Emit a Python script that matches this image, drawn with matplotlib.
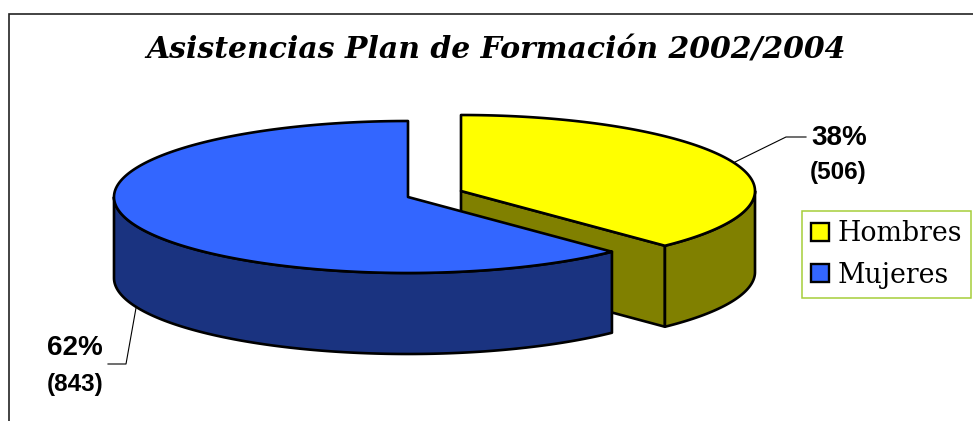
import numpy as np
import matplotlib
matplotlib.use('Agg')
import matplotlib.pyplot as plt
from matplotlib.patches import Polygon, Rectangle

labels = ['Hombres', 'Mujeres']
percent = [38, 62]
counts = [506, 843]
slice_share = [37.8, 62.2]
title = 'Asistencias Plan de Formación 2002/2004'

top_colors = ['#FFFF00', '#3366FF']
side_colors = ['#808000', '#1A3380']
centers = [(461, 191), (408, 197)]
rx, ry, depth = 294, 76, 81


def rim(center, a0, a1, drop=0):
    # angles in degrees, clockwise from twelve o'clock
    t = np.radians(np.linspace(a0, a1, 200))
    return np.column_stack([center[0] + rx * np.sin(t),
                            center[1] - ry * np.cos(t) + drop])


def draw_slice(ax, center, a0, a1, top, side, wall_from, wall_to, radial_wall=False):
    kw = dict(ec='black', lw=1.9, joinstyle='round', closed=True)
    if radial_wall:
        # the cut face that looks towards the viewer
        end = rim(center, a1, a1)[0]
        pts = [center, end, (end[0], end[1] + depth), (center[0], center[1] + depth)]
        ax.add_patch(Polygon(pts, fc=side, **kw))
    upper = rim(center, wall_from, wall_to)
    lower = rim(center, wall_from, wall_to, depth)
    ax.add_patch(Polygon(np.vstack([upper, lower[::-1]]), fc=side, **kw))
    ax.add_patch(Polygon(np.vstack([[center], rim(center, a0, a1)]), fc=top, **kw))


fig = plt.figure(figsize=(9.73, 4.21), dpi=100)
ax = fig.add_axes([0, 0, 1, 1])
ax.set_xlim(0, 973)
ax.set_ylim(421, 0)
ax.axis('off')

ax.add_patch(Rectangle((8.5, 14), 1000, 450, fc='white', ec='#222222', lw=1.2))

angle = 360 * slice_share[0] / sum(slice_share)
draw_slice(ax, centers[0], 0, angle, top_colors[0], side_colors[0], 90, angle, radial_wall=True)
draw_slice(ax, centers[1], angle, 360, top_colors[1], side_colors[1], angle, 270)

ax.text(496.5, 50, title, ha='center', va='center', family='DejaVu Serif',
        style='italic', weight='bold', fontsize=21.5)

# leader lines
ax.plot([735, 786, 806], [162, 137, 137], color='black', lw=0.8)
ax.plot([136, 126, 108], [308, 364, 364], color='black', lw=0.8)

sans = dict(family='Liberation Sans', weight='bold', va='center', ha='left')
ax.text(811, 138, f'{percent[0]}%', fontsize=20, **sans)
ax.text(810, 172, f'({counts[0]})', fontsize=17.5, **sans)
ax.text(47, 348, f'{percent[1]}%', fontsize=20, **sans)
ax.text(47, 384, f'({counts[1]})', fontsize=17.5, **sans)

handles = [Rectangle((0, 0), 1, 1, fc=c, ec='black', lw=1.7) for c in top_colors]
leg = ax.legend(handles, labels, loc='upper left', bbox_to_anchor=(802, 211),
                bbox_transform=ax.transData, fancybox=False, framealpha=1,
                edgecolor='#A6CE39', borderaxespad=0, borderpad=0.34,
                handlelength=0.68, handleheight=0.68, handletextpad=0.3,
                labelspacing=0.54, prop={'family': 'DejaVu Serif', 'size': 19.3})
leg.get_frame().set_linewidth(1.1)

fig.savefig('out.png', dpi=100)
